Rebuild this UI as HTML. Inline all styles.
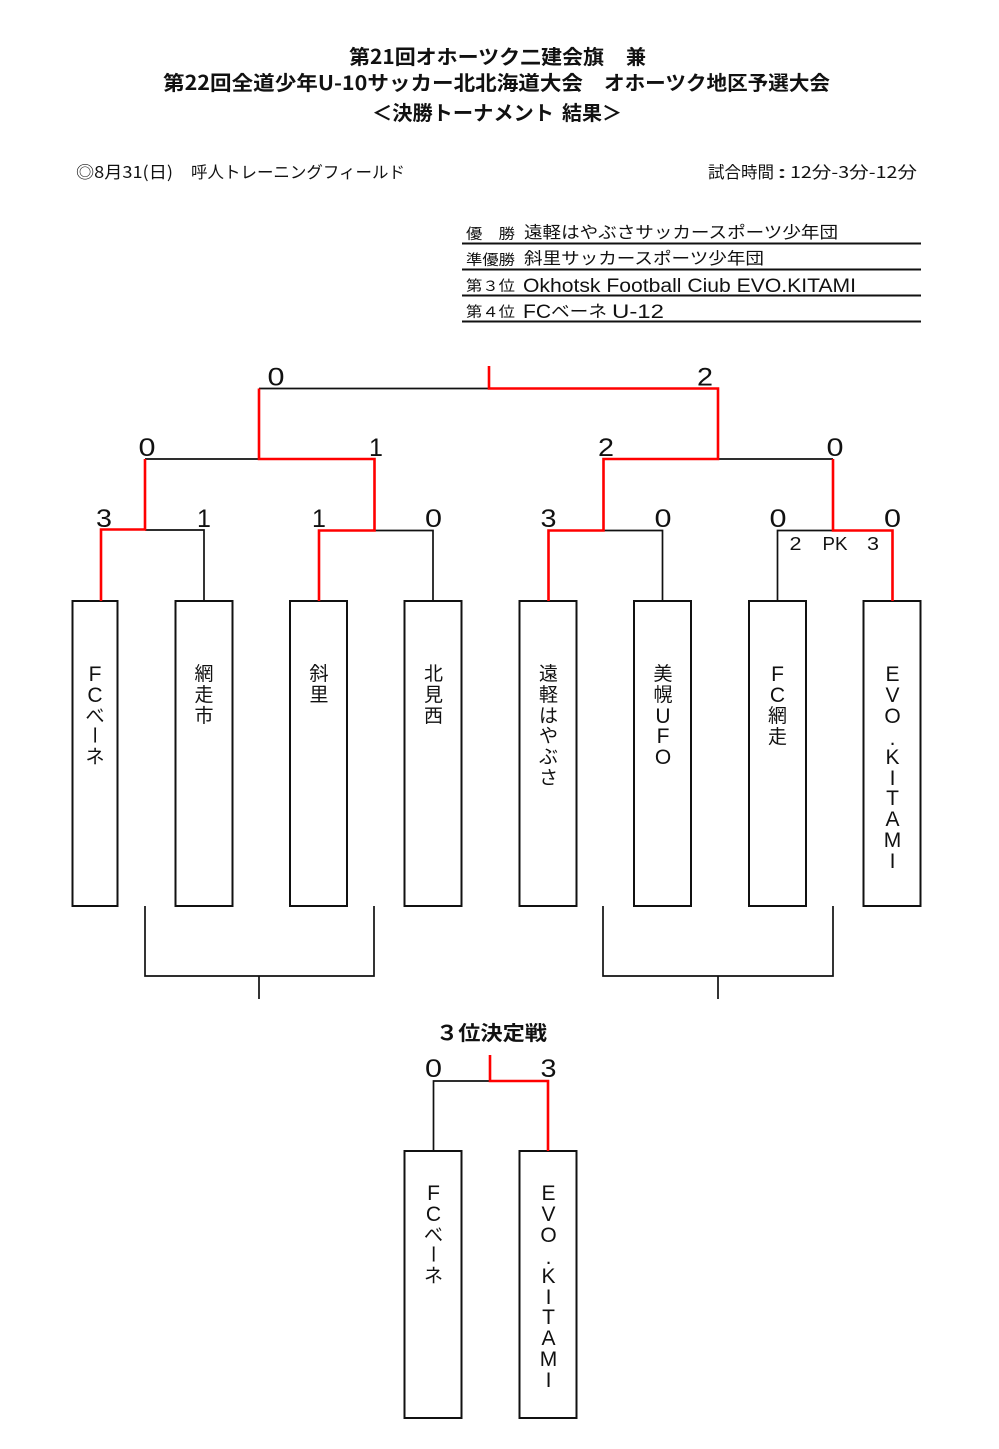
<!DOCTYPE html>
<html><head><meta charset="utf-8"><style>
html,body{margin:0;padding:0;background:#fff}
svg{display:block}
text{font-family:"Liberation Sans","Noto Sans CJK JP",sans-serif;fill:#111}
.t{font-size:20px;font-weight:700;font-family:"Noto Sans CJK JP",sans-serif}
.s{font-size:16.5px;font-family:"Noto Sans CJK JP",sans-serif;font-weight:400}
.m{font-size:19px;font-family:"Liberation Sans",sans-serif}
.l{font-size:14.5px;font-family:"Noto Sans CJK JP",sans-serif;font-weight:400}
.n{font-size:25px;text-anchor:middle}
.p{font-size:18px;text-anchor:middle}
.v text{font-size:19px;text-anchor:middle;font-family:"Noto Sans CJK JP",sans-serif;font-weight:400}
.v text.a{font-size:21px;font-family:"Liberation Sans",sans-serif;font-weight:400}
.k{stroke:#111;stroke-width:1.7;fill:none}
.r{stroke:#f00;stroke-width:2.6;fill:none}
.b{stroke:#111;stroke-width:2;fill:#fff}
</style></head><body>
<svg width="999" height="1449" viewBox="0 0 999 1449" xmlns="http://www.w3.org/2000/svg">
<text class="t" x="349" y="64" textLength="255" lengthAdjust="spacingAndGlyphs">第21回オホーツク二建会旗</text>
<text class="t" x="626" y="64" textLength="20" lengthAdjust="spacingAndGlyphs">兼</text>
<text class="t" x="163" y="90" textLength="420" lengthAdjust="spacingAndGlyphs">第22回全道少年U-10サッカー北北海道大会</text>
<text class="t" x="604" y="90" textLength="226" lengthAdjust="spacingAndGlyphs">オホーツク地区予選大会</text>
<text class="t" x="372" y="120" textLength="182" lengthAdjust="spacingAndGlyphs">＜決勝トーナメント</text>
<text class="t" x="562" y="120" textLength="60" lengthAdjust="spacingAndGlyphs">結果＞</text>

<text class="s" x="76" y="178" textLength="97" lengthAdjust="spacingAndGlyphs">◎8月31(日)</text>
<text class="s" x="191" y="178" textLength="214" lengthAdjust="spacingAndGlyphs">呼人トレーニングフィールド</text>
<text class="s" x="708" y="178" textLength="66" lengthAdjust="spacingAndGlyphs">試合時間</text>
<text class="s" x="777" y="178" textLength="10" lengthAdjust="spacingAndGlyphs">:</text>
<text class="s" x="790" y="178" textLength="127" lengthAdjust="spacingAndGlyphs">12分-3分-12分</text>

<text class="l" x="466" y="239" textLength="49" lengthAdjust="spacingAndGlyphs">優　勝</text>
<text class="s" x="524" y="238" textLength="314" lengthAdjust="spacingAndGlyphs">遠軽はやぶさサッカースポーツ少年団</text>
<text class="l" x="466" y="265" textLength="49" lengthAdjust="spacingAndGlyphs">準優勝</text>
<text class="s" x="524" y="264" textLength="240" lengthAdjust="spacingAndGlyphs">斜里サッカースポーツ少年団</text>
<text class="l" x="466" y="291" textLength="49" lengthAdjust="spacingAndGlyphs">第３位</text>
<text class="m" x="523" y="292" textLength="333" lengthAdjust="spacingAndGlyphs">Okhotsk Football Ciub EVO.KITAMI</text>
<text class="l" x="466" y="317" textLength="49" lengthAdjust="spacingAndGlyphs">第４位</text>
<text class="m" x="523" y="318" textLength="28" lengthAdjust="spacingAndGlyphs">FC</text>
<text class="s" x="551" y="317" textLength="56" lengthAdjust="spacingAndGlyphs">ベーネ</text>
<text class="m" x="612" y="318" textLength="52" lengthAdjust="spacingAndGlyphs">U-12</text>
<path d="M462 243.500H921M462 269.500H921M462 295.500H921M462 321.500H921" stroke="#111" stroke-width="2" fill="none"/>

<rect class="b" x="72.500" y="601" width="45" height="305"/>
<rect class="b" x="175.500" y="601" width="57" height="305"/>
<rect class="b" x="290" y="601" width="57" height="305"/>
<rect class="b" x="404.500" y="601" width="57" height="305"/>
<rect class="b" x="519.500" y="601" width="57" height="305"/>
<rect class="b" x="634" y="601" width="57" height="305"/>
<rect class="b" x="749" y="601" width="57" height="305"/>
<rect class="b" x="863.500" y="601" width="57" height="305"/>
<rect class="b" x="404.500" y="1151" width="57" height="267"/>
<rect class="b" x="519.500" y="1151" width="57" height="267"/>

<path class="k" d="M259 388.500H489M145 459H259M718 459H833M145 530H204V601M374 530.500H433V601M603 530.500H662.500V601M777.500 601V530.500H833"/>
<path class="k" d="M145 906V976H374V906M259 976V999M603 906V976H833V906M718 976V999"/>
<path class="k" d="M433.500 1151V1081H490"/>
<path class="r" d="M489 366V388.500H718V459H603.500V530.500H548.500V601"/>
<path class="r" d="M259 388.500V459H374.500V530.500H319V601"/>
<path class="r" d="M145 459V529.500H101V601"/>
<path class="r" d="M833 459V530.500H892.500V601"/>
<path class="r" d="M490 1055V1081H548V1151"/>

<text class="n" x="276" y="385.500" textLength="17" lengthAdjust="spacingAndGlyphs">0</text>
<text class="n" x="705" y="385.500" textLength="16" lengthAdjust="spacingAndGlyphs">2</text>
<text class="n" x="147" y="456" textLength="17" lengthAdjust="spacingAndGlyphs">0</text>
<text class="n" x="376" y="456">1</text>
<text class="n" x="606" y="456" textLength="16" lengthAdjust="spacingAndGlyphs">2</text>
<text class="n" x="835" y="456" textLength="17" lengthAdjust="spacingAndGlyphs">0</text>
<text class="n" x="104" y="527" textLength="16" lengthAdjust="spacingAndGlyphs">3</text>
<text class="n" x="204" y="527">1</text>
<text class="n" x="319" y="527">1</text>
<text class="n" x="433.500" y="527" textLength="17" lengthAdjust="spacingAndGlyphs">0</text>
<text class="n" x="548.500" y="527" textLength="16" lengthAdjust="spacingAndGlyphs">3</text>
<text class="n" x="663" y="527" textLength="17" lengthAdjust="spacingAndGlyphs">0</text>
<text class="n" x="778" y="527" textLength="17" lengthAdjust="spacingAndGlyphs">0</text>
<text class="n" x="892.500" y="527" textLength="17" lengthAdjust="spacingAndGlyphs">0</text>
<text class="n" x="433.500" y="1077" textLength="17" lengthAdjust="spacingAndGlyphs">0</text>
<text class="n" x="548.500" y="1077" textLength="16" lengthAdjust="spacingAndGlyphs">3</text>
<text class="p" x="795.500" y="550" textLength="12" lengthAdjust="spacingAndGlyphs">2</text>
<text class="p" x="835" y="550" textLength="25" lengthAdjust="spacingAndGlyphs">PK</text>
<text class="p" x="873" y="550" textLength="12" lengthAdjust="spacingAndGlyphs">3</text>

<text class="t" x="436" y="1040" textLength="111" lengthAdjust="spacingAndGlyphs">３位決定戦</text>

<g class="v">
<text class="a" x="95" y="681">F</text><text class="a" x="95" y="702">C</text><text x="95" y="722">べ</text><text x="95" y="742" transform="rotate(90 95 735)">ー</text><text x="95" y="763">ネ</text>
<text x="204" y="680">網</text><text x="204" y="701">走</text><text x="204" y="722">市</text>
<text x="319" y="680">斜</text><text x="319" y="701">里</text>
<text x="433.500" y="680">北</text><text x="433.500" y="701">見</text><text x="433.500" y="722">西</text>
<text x="548.500" y="680">遠</text><text x="548.500" y="701">軽</text><text x="548.500" y="722">は</text><text x="548.500" y="742">や</text><text x="548.500" y="763">ぶ</text><text x="548.500" y="784">さ</text>
<text x="663" y="680">美</text><text x="663" y="701">幌</text><text class="a" x="663" y="723">U</text><text class="a" x="663" y="743">F</text><text class="a" x="663" y="764">O</text>
<text class="a" x="777.500" y="681">F</text><text class="a" x="777.500" y="702">C</text><text x="777.500" y="722">網</text><text x="777.500" y="743">走</text>
<text class="a" x="892.500" y="681">E</text><text class="a" x="892.500" y="702">V</text><text class="a" x="892.500" y="723">O</text><text class="a" x="892.500" y="745">.</text><text class="a" x="892.500" y="764">K</text><text class="a" x="892.500" y="785">I</text><text class="a" x="892.500" y="805">T</text><text class="a" x="892.500" y="826">A</text><text class="a" x="892.500" y="847">M</text><text class="a" x="892.500" y="868">I</text>
<text class="a" x="433.500" y="1200">F</text><text class="a" x="433.500" y="1221">C</text><text x="433.500" y="1241">べ</text><text x="433.500" y="1261" transform="rotate(90 433.500 1254)">ー</text><text x="433.500" y="1282">ネ</text>
<text class="a" x="548.500" y="1200">E</text><text class="a" x="548.500" y="1221">V</text><text class="a" x="548.500" y="1242">O</text><text class="a" x="548.500" y="1264">.</text><text class="a" x="548.500" y="1283">K</text><text class="a" x="548.500" y="1304">I</text><text class="a" x="548.500" y="1324">T</text><text class="a" x="548.500" y="1345">A</text><text class="a" x="548.500" y="1366">M</text><text class="a" x="548.500" y="1387">I</text>
</g>
</svg>
</body></html>
